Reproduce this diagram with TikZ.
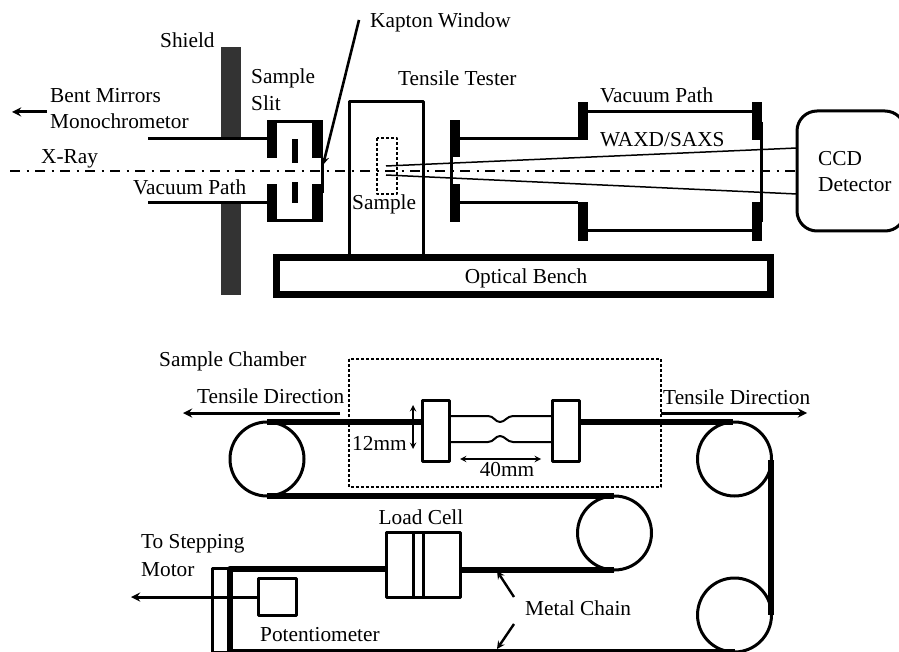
\documentclass[tikz,border=0pt]{standalone}
\usepackage{fontspec}
\setmainfont{Liberation Serif}
\usetikzlibrary{calc}

\tikzset{
    lbl/.style={inner sep=0pt, anchor=west, yshift=-1pt, font=\fontsize{21.3}{24}\selectfont},
    wall/.style={line width=3pt},
    chain/.style={line width=6pt},
    flange/.style={fill=black, draw=none},
    thinline/.style={line width=1.5pt},
    dotbox/.style={line width=2.6pt, dash pattern=on 2.6pt off 2.4pt},
    beamaxis/.style={line width=2.6pt, dash pattern=on 10pt off 6.5pt on 2.5pt off 6pt}
}

\begin{document}
\begin{tikzpicture}[x=1pt, y=-1pt, >=stealth, line join=round]
    \useasboundingbox (0,0) rectangle (899,652);

    % 屏蔽板
    \fill[black!80] (221,47) rectangle (241,139);
    \fill[black!80] (221,203) rectangle (241,295);

    % 上半部分：真空管
    \draw[wall] (148,139) -- (267,139);
    \draw[wall] (148,203) -- (267,203);
    \draw[wall] (277,121.5) -- (312,121.5);
    \draw[wall] (277,221) -- (312,221);
    \fill[flange] (267,120) rectangle (277,158);
    \fill[flange] (267,184) rectangle (277,222);
    \fill[flange] (312,120) rectangle (323,158);
    \fill[flange] (312,184) rectangle (323,222);
    \fill[flange] (292,139) rectangle (298,163);
    \fill[flange] (292,182) rectangle (298,203);
    \draw[wall] (322,158) -- (322,193);

    % 光轴
    \draw[beamaxis] (10,171) -- (797,171);

    % 拉伸机和样品
    \draw[wall] (349,255) -- (349,102) -- (423,102) -- (423,255);
    \draw[dotbox] (377,138) rectangle (397,194);
    \coordinate (CL) at (797,148);
    \coordinate (CR) at (797,194);
    \draw[thinline] (386,166) -- (CL);
    \draw[thinline] (386,175) -- (CR);

    % 后面的真空管
    \fill[flange] (449.5,120) rectangle (460,157);
    \fill[flange] (449.5,184) rectangle (460,222);
    \draw[wall] (451,157) -- (451,184);
    \draw[wall] (460,139) -- (578,139);
    \draw[wall] (460,203) -- (578,203);
    \fill[flange] (578,102) rectangle (588,140);
    \fill[flange] (578,202) rectangle (588,241);
    \draw[wall] (588,112) -- (752,112);
    \draw[wall] (588,231) -- (752,231);
    \fill[flange] (752,102) rectangle (762,140);
    \fill[flange] (752,202) rectangle (762,241);
    \draw[wall] (761.5,122) -- (761.5,222);

    % CCD 和光学平台
    \draw[wall, rounded corners=20pt] (797,111) rectangle (905,231);
    \draw[line width=7pt, miter limit=10, line join=miter] (276.5,258) rectangle (770.5,294.5);

    % Kapton 窗口指示线
    \coordinate (K0) at (359,20);
    \coordinate (K1) at (323,165);
    \draw[->, line width=2.6pt] (K0) -- (K1);
    \coordinate (M0) at (47,112);
    \coordinate (M1) at (12,112);
    \draw[->, wall] (M0) -- (M1);

    % 下半部分：样品室
    \draw[dotbox] (349,359) rectangle (661,487);

    % 滑轮
    \draw[wall] (267,459) circle (37);
    \draw[wall] (734.5,459) circle (37);
    \draw[wall] (734.5,615) circle (37);
    \draw[wall] (614.5,533) circle (37);

    % 链条
    \draw[chain] (267,422) -- (422,422);
    \draw[chain] (579,422) -- (733,422);
    \draw[chain] (267,496) -- (614,496);
    \draw[chain] (614,570) -- (460,570);
    \draw[chain] (386,569) -- (230,569) -- (230,652);
    \draw[chain] (771,460) -- (771,615);
    \draw[line width=4pt] (230,651) -- (735,651);

    % 夹具和样条
    \draw[wall, fill=white] (422,400) rectangle (449,461);
    \draw[wall, fill=white] (552,400) rectangle (579,461);
    \draw[line width=2pt] (449,416) -- (488,416) .. controls (494,416) and (495,422) .. (500,422) .. controls (505,422) and (507,416) .. (513,416) -- (552,416);
    \draw[line width=2pt] (449,442) -- (488,442) .. controls (494,442) and (495,436) .. (500,436) .. controls (505,436) and (507,442) .. (513,442) -- (552,442);
    \draw[<->, line width=1.8pt] (413,405) -- (413,449);
    \draw[<->, line width=1.8pt] (460,459) -- (541,459);

    % 拉伸方向箭头
    \draw[->, wall] (340,413) -- (183,413);
    \draw[->, wall] (661,413) -- (807,413);

    % 称重传感器、电位器
    \draw[wall, fill=white] (386,532) rectangle (460,597);
    \draw[wall] (413.5,532) -- (413.5,597);
    \draw[wall] (423,532) -- (423,597);
    \draw[wall] (212,568) rectangle (228,652);
    \draw[->, wall] (258,597) -- (131,597);
    \draw[wall, fill=white] (258,578) rectangle (296,615);

    % Metal Chain 指示线
    \coordinate (C0) at (514,597);
    \coordinate (C1) at (497,571);
    \coordinate (C2) at (514,624);
    \coordinate (C3) at (497,649);
    \draw[->, line width=2.4pt] (C0) -- (C1);
    \draw[->, line width=2.4pt] (C2) -- (C3);

    % 文字
    \node[lbl] (kapton) at (370,21) {Kapton Window};
    \node[lbl] (shield) at (160,39) {Shield};
    \node[lbl] (sample1) at (251,77) {Sample};
    \node[lbl] (slit) at (251,102) {Slit};
    \node[lbl] (tester) at (398,77) {Tensile Tester};
    \node[lbl] (vac2) at (600,94) {Vacuum Path};
    \node[lbl] (waxd) at (600,139) {WAXD/SAXS};
    \node[lbl] (ccd) at (818,158) {CCD};
    \node[lbl] (det) at (818,184) {Detector};
    \node[lbl] (bent) at (50,95) {Bent Mirrors};
    \node[lbl] (mono) at (50,120) {Monochrometor};
    \node[lbl] (xray) at (41,158) {X-Ray};
    \node[lbl] (vac1) at (133,186) {Vacuum Path};
    \node[lbl] (sample2) at (352,203) {Sample};
    \node[lbl, anchor=center] (bench) at (526,277) {Optical Bench};
    \node[lbl] (chamber) at (159,360) {Sample Chamber};
    \node[lbl] (dirl) at (197,395) {Tensile Direction};
    \node[lbl] (dirr) at (663,396) {Tensile Direction};
    \node[lbl] (wid) at (352,442) {12mm};
    \node[lbl, anchor=center] (len) at (507,469) {40mm};
    \node[lbl, anchor=center] (cell) at (421,516) {Load Cell};
    \node[lbl] (step) at (141,543) {To Stepping};
    \node[lbl] (motor) at (141,569) {Motor};
    \node[lbl] (pot) at (260,634) {Potentiometer};
    \node[lbl] (metal) at (525,607) {Metal Chain};
\end{tikzpicture}
\end{document}
